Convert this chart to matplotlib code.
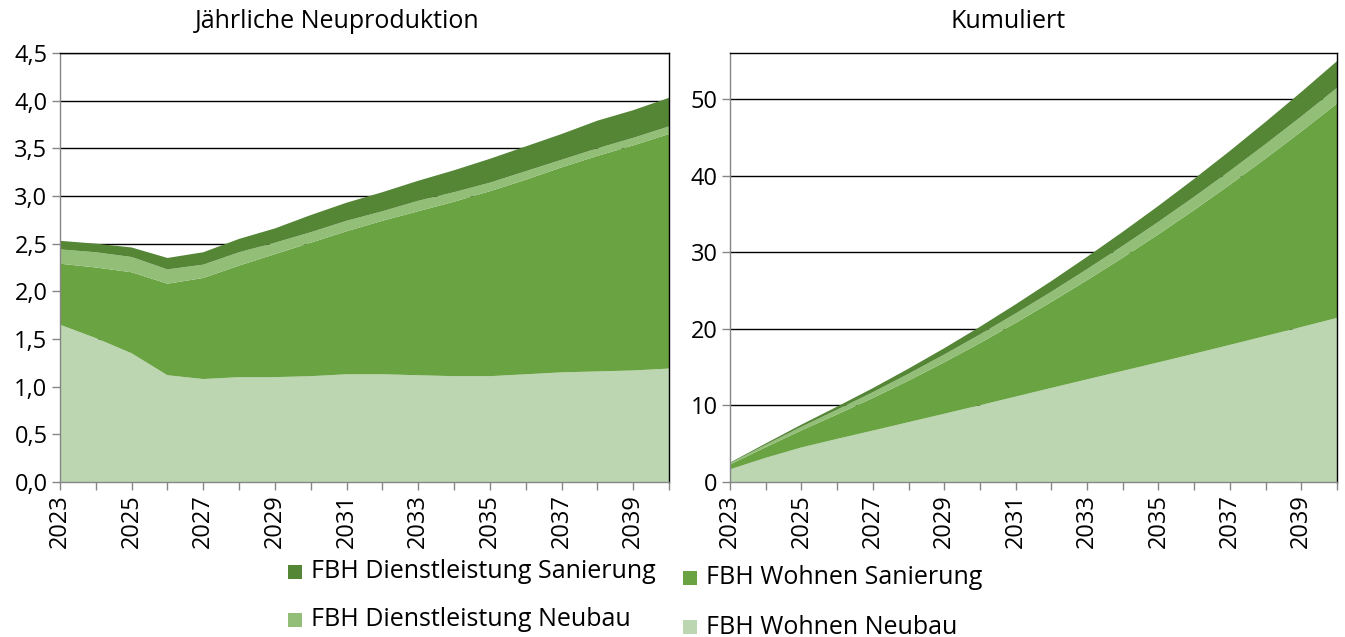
import matplotlib
matplotlib.use("Agg")
import matplotlib.pyplot as plt
from matplotlib.patches import Rectangle

plt.rcParams['font.family'] = ['Open Sans', 'DejaVu Sans']

years = list(range(2023, 2041))

# Annual new production (stacked layers)
wohnen_neubau = [1.65, 1.51, 1.35, 1.12, 1.08, 1.10, 1.10, 1.11, 1.13, 1.13,
                 1.12, 1.11, 1.11, 1.13, 1.15, 1.16, 1.17, 1.19]
wohnen_sanierung = [0.64, 0.74, 0.85, 0.96, 1.06, 1.17, 1.29, 1.40, 1.50, 1.61,
                    1.72, 1.83, 1.94, 2.04, 2.15, 2.26, 2.36, 2.46]
dienst_neubau = [0.15, 0.16, 0.16, 0.15, 0.14, 0.14, 0.12, 0.11, 0.11, 0.10,
                 0.11, 0.10, 0.09, 0.09, 0.08, 0.08, 0.08, 0.08]
dienst_sanierung = [0.09, 0.09, 0.10, 0.12, 0.13, 0.14, 0.15, 0.18, 0.19, 0.20,
                    0.21, 0.23, 0.25, 0.26, 0.27, 0.29, 0.29, 0.30]

# Cumulative (stacked layers)
cum_wohnen_neubau = [1.65, 3.16, 4.51, 5.63, 6.71, 7.81, 8.91, 10.02, 11.15, 12.28,
                     13.40, 14.51, 15.62, 16.75, 17.90, 19.06, 20.23, 21.42]
cum_wohnen_sanierung = [0.64, 1.38, 2.23, 3.19, 4.25, 5.42, 6.71, 8.11, 9.61, 11.22,
                        12.94, 14.77, 16.71, 18.75, 20.90, 23.16, 25.52, 27.98]
cum_dienst_neubau = [0.15, 0.31, 0.47, 0.62, 0.76, 0.90, 1.02, 1.13, 1.24, 1.34,
                     1.45, 1.55, 1.64, 1.73, 1.81, 1.89, 1.97, 2.05]
cum_dienst_sanierung = [0.09, 0.18, 0.28, 0.40, 0.53, 0.67, 0.82, 1.00, 1.19, 1.39,
                        1.60, 1.83, 2.08, 2.34, 2.61, 2.90, 3.19, 3.49]

labels = ["FBH Wohnen Neubau", "FBH Wohnen Sanierung",
          "FBH Dienstleistung Neubau", "FBH Dienstleistung Sanierung"]
colors = ["#BDD6B2", "#69A342", "#92BE78", "#548636"]

titles = ["Jährliche Neuproduktion", "Kumuliert"]
left_yticks = [0, 0.5, 1.0, 1.5, 2.0, 2.5, 3.0, 3.5, 4.0, 4.5]
left_yticklabels = ["0,0", "0,5", "1,0", "1,5", "2,0", "2,5", "3,0", "3,5", "4,0", "4,5"]
right_yticks = [0, 10, 20, 30, 40, 50]

W, H = 1345, 637
fig = plt.figure(figsize=(W / 100, H / 100), dpi=100)

def fx(px):
    return px / W

def fy(py):
    return 1 - py / H

ax1 = fig.add_axes([fx(60), fy(482), fx(669) - fx(60), fy(53) - fy(482)])
ax2 = fig.add_axes([fx(730), fy(482), fx(1337) - fx(730), fy(53) - fy(482)])

ax1.stackplot(years, wohnen_neubau, wohnen_sanierung, dienst_neubau, dienst_sanierung,
              colors=colors, linewidth=0)
ax2.stackplot(years, cum_wohnen_neubau, cum_wohnen_sanierung, cum_dienst_neubau,
              cum_dienst_sanierung, colors=colors, linewidth=0)

ax1.set_ylim(0, 4.5)
ax1.set_yticks(left_yticks)
ax1.set_yticklabels(left_yticklabels)
ax2.set_ylim(0, 56)
ax2.set_yticks(right_yticks)

fs = 18
tfs = 17
for ax in [ax1, ax2]:
    ax.set_xlim(years[0], years[-1])
    ax.set_xticks(years)
    ax.set_xticklabels([str(y) if (y - years[0]) % 2 == 0 else "" for y in years],
                       rotation=90)
    ax.set_axisbelow(True)
    ax.yaxis.grid(True, color="black", linewidth=1.0)
    ax.tick_params(axis='both', colors="#868686", labelcolor="black", labelsize=tfs,
                   length=6, width=1.0, direction='out')
    ax.tick_params(axis='x', pad=3)
    ax.tick_params(axis='y', pad=3)
    for s in ['left', 'bottom']:
        ax.spines[s].set_color("#868686")
        ax.spines[s].set_linewidth(1.0)
    for s in ['top', 'right']:
        ax.spines[s].set_color("black")
        ax.spines[s].set_linewidth(1.0)

# Chart titles, centred over each chart area (including tick labels)
for title, xpx in zip(titles, [337, 1008]):
    fig.text(fx(xpx), fy(22), title, fontsize=fs, ha='center', va='center')

# Legend (two columns, drawn from series labels/colors)
legend_items = [(3, 288, 572), (2, 288, 620), (1, 683, 578), (0, 683, 627)]
for idx, xpx, ypx in legend_items:
    fig.patches.append(Rectangle((fx(xpx), fy(ypx + 7)), fx(14), 14 / H,
                                 transform=fig.transFigure, facecolor=colors[idx],
                                 edgecolor='none'))
    fig.text(fx(xpx + 23), fy(ypx), labels[idx], fontsize=fs, va='center', ha='left')

fig.savefig("out.png", dpi=100)
